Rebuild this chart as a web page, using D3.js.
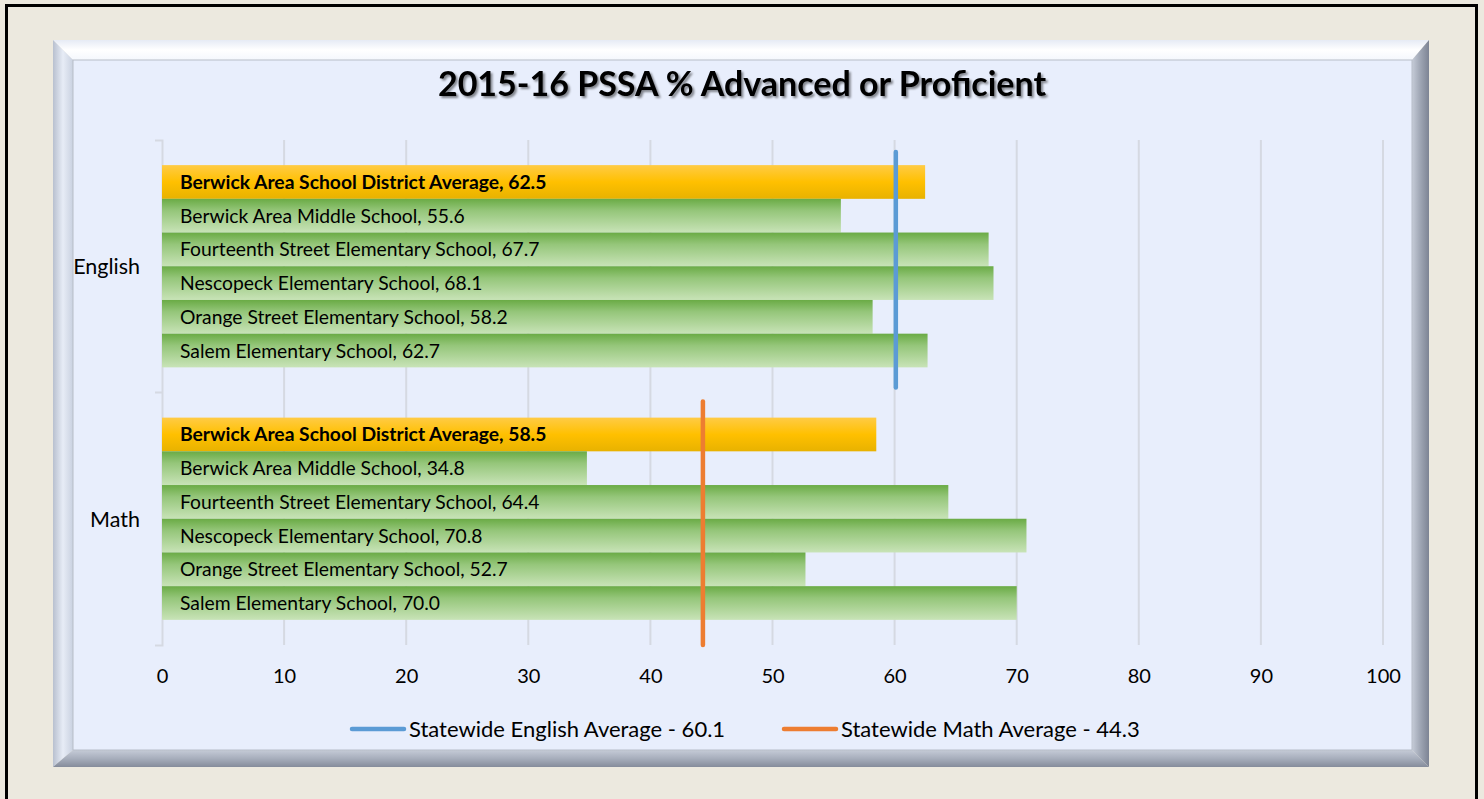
<!DOCTYPE html>
<html>
<head>
<meta charset="utf-8">
<script src="https://cdn.jsdelivr.net/npm/d3@7"></script>
<style>
  body { margin: 0; background: #ECE9DF; }
  svg { display: block; font-family: Lato, "Open Sans", sans-serif; }
</style>
</head>
<body>
<script>
// chart data
const subjects = ["English", "Math"];
const schools = [
  "Berwick Area School District Average",
  "Berwick Area Middle School",
  "Fourteenth Street Elementary School",
  "Nescopeck Elementary School",
  "Orange Street Elementary School",
  "Salem Elementary School"
];
const englishValues = [62.5, 55.6, 67.7, 68.1, 58.2, 62.7];
const mathValues = [58.5, 34.8, 64.4, 70.8, 52.7, 70.0];
const stateAverages = [60.1, 44.3];
const stateLabels = ["Statewide English Average - 60.1", "Statewide Math Average - 44.3"];
const stateColors = ["#5B9BD5", "#ED7D31"];
const xTicks = [0, 10, 20, 30, 40, 50, 60, 70, 80, 90, 100];

const width = 1484, height = 799;
const svg = d3.select("body").append("svg").attr("width", width).attr("height", height);
const defs = svg.append("defs");

function grad(id, stops, vertical = true) {
  const g = defs.append("linearGradient").attr("id", id)
    .attr("x1", 0).attr("y1", 0).attr("x2", vertical ? 0 : 1).attr("y2", vertical ? 1 : 0);
  stops.forEach(([o, c]) => g.append("stop").attr("offset", o).attr("stop-color", c));
}
grad("green", [[0, "#6AAB45"], [0.35, "#95C67A"], [1, "#C8E3B7"]]);
grad("gold", [[0, "#FFCB45"], [0.5, "#FFC000"], [1, "#E8B200"]]);
grad("bevTop", [[0, "#E6EBF5"], [0.5, "#FFFFFF"], [1, "#F4F7FD"]]);
grad("bevLeft", [[0, "#B8C0CF"], [0.5, "#E7ECF6"], [1, "#C9D1E0"]], false);
grad("bevRight", [[0, "#C6CCD8"], [0.5, "#9EA5B3"], [1, "#7D8494"]], false);
grad("bevBottom", [[0, "#C5CBD7"], [0.5, "#A7AEBC"], [1, "#858C9B"]]);

defs.append("filter").attr("id", "shadow").attr("x", "-5%").attr("y", "-20%").attr("width", "110%").attr("height", "150%")
  .append("feDropShadow").attr("dx", 2).attr("dy", 2).attr("stdDeviation", 1.2)
  .attr("flood-color", "#000").attr("flood-opacity", 0.45);

// page border
svg.append("rect").attr("x", 6.5).attr("y", 5.5).attr("width", 1470).attr("height", 800)
  .attr("fill", "#ECE9DF").attr("stroke", "#000").attr("stroke-width", 3);

// bevelled frame
const o = {x0: 53, y0: 40, x1: 1429, y1: 767};
const i = {x0: 73, y0: 60, x1: 1412, y1: 750};
const poly = pts => pts.map(p => p.join(",")).join(" ");
svg.append("polygon").attr("points", poly([[o.x0, o.y0], [o.x1, o.y0], [i.x1, i.y0], [i.x0, i.y0]])).attr("fill", "url(#bevTop)");
svg.append("polygon").attr("points", poly([[o.x0, o.y0], [i.x0, i.y0], [i.x0, i.y1], [o.x0, o.y1]])).attr("fill", "url(#bevLeft)");
svg.append("polygon").attr("points", poly([[o.x1, o.y0], [o.x1, o.y1], [i.x1, i.y1], [i.x1, i.y0]])).attr("fill", "url(#bevRight)");
svg.append("polygon").attr("points", poly([[o.x0, o.y1], [i.x0, i.y1], [i.x1, i.y1], [o.x1, o.y1]])).attr("fill", "url(#bevBottom)");
svg.append("rect").attr("x", i.x0).attr("y", i.y0).attr("width", i.x1 - i.x0).attr("height", i.y1 - i.y0)
  .attr("fill", "#E8EEFC").attr("stroke", "#B7BDC8").attr("stroke-width", 1);

// title
svg.append("text").attr("x", 742).attr("y", 96).attr("text-anchor", "middle")
  .attr("font-size", 34).attr("font-weight", "bold").attr("fill", "#000")
  .attr("filter", "url(#shadow)").text("2015-16 PSSA % Advanced or Proficient");

// scales
const x = d3.scaleLinear().domain([0, 100]).range([162, 1383]);
const y0 = d3.scaleBand().domain(subjects).range([140, 645]);
const y1 = d3.scaleBand().domain(schools).range([0, y0.bandwidth()]).paddingInner(0).paddingOuter(0.745);

// gridlines
svg.append("g").selectAll("line").data(xTicks.slice(1)).join("line")
  .attr("x1", d => x(d)).attr("x2", d => x(d)).attr("y1", 140).attr("y2", 645)
  .attr("stroke", "#D5D9E2").attr("stroke-width", 2);

// left axis
const yAxis = svg.append("g").attr("transform", `translate(${x(0)},0)`)
  .call(d3.axisLeft(y0).tickValues([]).tickSizeOuter(7));
yAxis.select(".domain").attr("stroke", "#D5D9E2").attr("stroke-width", 2);
svg.append("g").selectAll("line").data([y0.range()[0] + y0.step()]).join("line")
  .attr("x1", x(0) - 7).attr("x2", x(0)).attr("y1", d => d).attr("y2", d => d)
  .attr("stroke", "#D5D9E2").attr("stroke-width", 2);
svg.append("g").selectAll("text").data(subjects).join("text")
  .attr("x", 140).attr("y", d => y0(d) + y0.bandwidth() / 2 + 8).attr("text-anchor", "end")
  .attr("font-size", 21.5).attr("fill", "#000").text(d => d);

// bottom axis labels
const xAxis = svg.append("g").attr("transform", "translate(0,645)")
  .call(d3.axisBottom(x).tickValues(xTicks).tickSize(0).tickPadding(24));
xAxis.select(".domain").remove();
xAxis.selectAll("text").attr("font-size", 20).attr("font-family", "Lato, sans-serif").attr("fill", "#000");

// bars
const rows = [];
subjects.forEach((s, si) => {
  const vals = si === 0 ? englishValues : mathValues;
  schools.forEach((n, k) => rows.push({subject: s, school: n, value: vals[k], avg: k === 0}));
});
const bars = svg.append("g").selectAll("g").data(rows).join("g")
  .attr("transform", d => `translate(0,${y0(d.subject) + y1(d.school)})`);
bars.append("rect").attr("x", x(0)).attr("width", d => x(d.value) - x(0))
  .attr("height", y1.bandwidth()).attr("fill", d => d.avg ? "url(#gold)" : "url(#green)");
bars.append("text").attr("x", 180).attr("y", y1.bandwidth() / 2 + 7)
  .attr("font-size", 19.3).attr("font-weight", d => d.avg ? "bold" : "normal").attr("fill", "#000")
  .text(d => `${d.school}, ${d.value.toFixed(1)}`);

// statewide average lines
const extents = [[12, -5], [9, 0]];
svg.append("g").selectAll("line").data(subjects).join("line")
  .attr("x1", (d, k) => x(stateAverages[k])).attr("x2", (d, k) => x(stateAverages[k]))
  .attr("y1", (d, k) => y0(d) + extents[k][0]).attr("y2", (d, k) => y0(d) + y0.bandwidth() + extents[k][1])
  .attr("stroke", (d, k) => stateColors[k]).attr("stroke-width", 4.5).attr("stroke-linecap", "round");

// legend
const legendX = [352, 784];
const lg = svg.append("g").selectAll("g").data(stateLabels).join("g")
  .attr("transform", (d, k) => `translate(${legendX[k]},729)`);
lg.append("line").attr("x1", 0).attr("x2", 52).attr("stroke", (d, k) => stateColors[k])
  .attr("stroke-width", 4.5).attr("stroke-linecap", "round");
lg.append("text").attr("x", 57).attr("y", 7.5).attr("font-size", 22).attr("fill", "#000").text(d => d);
</script>
</body>
</html>
